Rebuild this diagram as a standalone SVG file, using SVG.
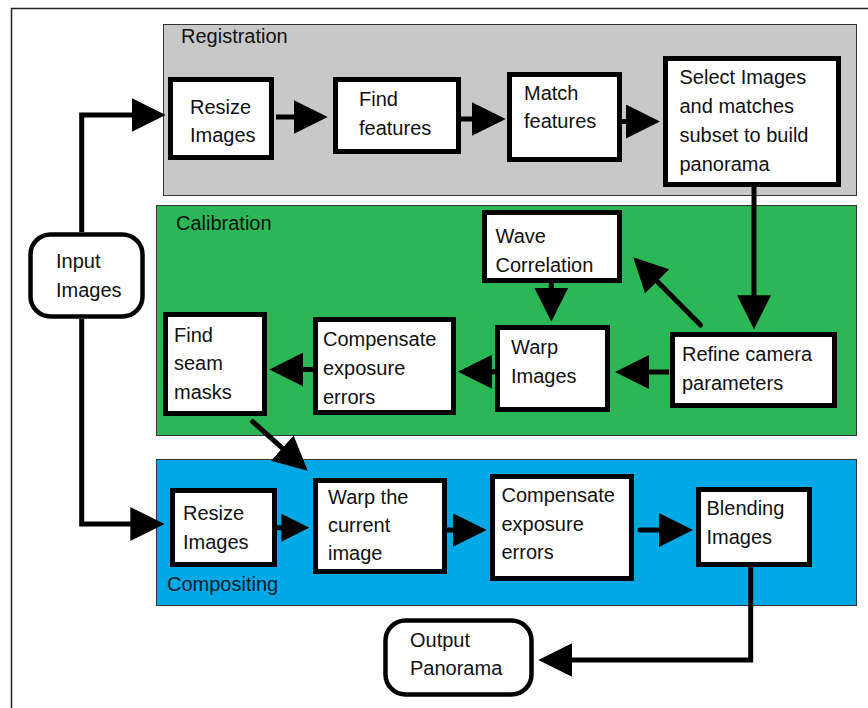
<svg xmlns="http://www.w3.org/2000/svg" width="868" height="708" viewBox="0 0 868 708">
<defs>
<style>
.t{font-family:"Liberation Sans",Arial,sans-serif;font-size:20px;fill:#111}
.box{fill:#fff;stroke:#000;stroke-width:5}
.panel{stroke:#333;stroke-width:1}
.c{fill:none;stroke:#000;stroke-width:5}
</style>
<marker id="ah" markerUnits="userSpaceOnUse" markerWidth="34" markerHeight="34" refX="2" refY="17" orient="auto" viewBox="0 0 34 34">
<path d="M0,0 L34,17 L0,34 Z" fill="#000"/>
</marker>
<marker id="ahs" markerUnits="userSpaceOnUse" markerWidth="28" markerHeight="28" refX="2" refY="14" orient="auto" viewBox="0 0 28 28">
<path d="M0,0 L28,14 L0,28 Z" fill="#000"/>
</marker>
</defs>
<rect width="868" height="708" fill="#fff"/>
<rect x="11.5" y="8.5" width="900" height="750" fill="none" stroke="#222" stroke-width="1.5"/>

<g id="panel-registration">
<rect class="panel" x="163.5" y="24.5" width="693" height="171" fill="#c8c8c8"/>
<text class="t" x="181" y="43">Registration</text>
</g>
<g id="panel-calibration">
<rect class="panel" x="156.5" y="205.5" width="700" height="230" fill="#2cb757"/>
<text class="t" x="176" y="230">Calibration</text>
</g>
<g id="panel-compositing">
<rect class="panel" x="156.5" y="459.5" width="700" height="146" fill="#00a8e6"/>
<text class="t" x="167" y="591" style="fill:#0c1c2c">Compositing</text>
</g>

<g id="connectors">
<path class="c" d="M81.7,232 V115 H133.7" marker-end="url(#ah)"/>
<path class="c" d="M81.7,319 V524 H132.3" marker-end="url(#ah)"/>
<path class="c" d="M276,117 H295.7" marker-end="url(#ah)"/>
<path class="c" d="M461,119 H473.7" marker-end="url(#ah)"/>
<path class="c" d="M621,121.5 H628" marker-end="url(#ah)"/>
<path class="c" d="M754,187 V297.3" marker-end="url(#ah)"/>
<path class="c" d="M551.3,283 V289.7" marker-end="url(#ah)"/>
<path class="c" d="M700.5,325 L655.8,280" stroke-linecap="round" marker-end="url(#ah)"/>
<path class="c" d="M669,372 H647" marker-end="url(#ah)"/>
<path class="c" d="M495,371.7 H490" marker-end="url(#ah)"/>
<path class="c" d="M313,369.5 H301.3" marker-end="url(#ah)"/>
<path class="c" d="M252.7,421.7 L283.8,449.4" stroke-linecap="round" marker-end="url(#ah)"/>
<path class="c" d="M277,527.7 H283.3" marker-end="url(#ahs)"/>
<path class="c" d="M447,530 H454.7" marker-end="url(#ah)"/>
<path class="c" d="M640,530 H661" stroke-linecap="round" marker-end="url(#ah)"/>
<path class="c" d="M750.7,567 V660 H570.3" marker-end="url(#ah)"/>
</g>

<g id="input-images">
<rect class="box" x="30.5" y="234.5" width="112" height="82" rx="20" style="stroke-width:4.5"/>
<text class="t" x="56" y="267.5">Input</text>
<text class="t" x="56" y="296.5">Images</text>
</g>
<g id="reg-resize">
<rect class="box" x="170.5" y="79.5" width="101" height="78"/>
<text class="t" x="190" y="114">Resize</text>
<text class="t" x="190" y="141.5">Images</text>
</g>
<g id="find-features">
<rect class="box" x="335.5" y="79.5" width="123" height="72"/>
<text class="t" x="359" y="106">Find</text>
<text class="t" x="359" y="135">features</text>
</g>
<g id="match-features">
<rect class="box" x="509.5" y="74.5" width="110" height="85"/>
<text class="t" x="524" y="100">Match</text>
<text class="t" x="524" y="128">features</text>
</g>
<g id="select-images">
<rect class="box" x="665.5" y="58.5" width="173" height="126"/>
<text class="t" x="679.5" y="84">Select Images</text>
<text class="t" x="679.5" y="113">and matches</text>
<text class="t" x="679.5" y="141.5">subset to build</text>
<text class="t" x="679.5" y="170.5">panorama</text>
</g>
<g id="wave-correlation">
<rect class="box" x="484.5" y="212.5" width="135" height="68"/>
<text class="t" x="495.5" y="243">Wave</text>
<text class="t" x="495.5" y="271.5">Correlation</text>
</g>
<g id="warp-images">
<rect class="box" x="497.5" y="327.5" width="110" height="82"/>
<text class="t" x="511" y="353.5">Warp</text>
<text class="t" x="511" y="382.5">Images</text>
</g>
<g id="refine-camera">
<rect class="box" x="672.5" y="334.5" width="162" height="71"/>
<text class="t" x="682" y="361">Refine camera</text>
<text class="t" x="682" y="389.5">parameters</text>
</g>
<g id="compensate-calibration">
<rect class="box" x="315.5" y="319.5" width="138" height="93"/>
<text class="t" x="323" y="345.5">Compensate</text>
<text class="t" x="323" y="375">exposure</text>
<text class="t" x="323" y="403.5">errors</text>
</g>
<g id="find-seam-masks">
<rect class="box" x="165.5" y="314.5" width="99" height="99"/>
<text class="t" x="174" y="341.5">Find</text>
<text class="t" x="174" y="370">seam</text>
<text class="t" x="174" y="399">masks</text>
</g>
<g id="comp-resize">
<rect class="box" x="172.5" y="490.5" width="102" height="74"/>
<text class="t" x="183" y="520">Resize</text>
<text class="t" x="183" y="548.5">Images</text>
</g>
<g id="warp-current">
<rect class="box" x="315.5" y="480.5" width="129" height="91"/>
<text class="t" x="328" y="503.5">Warp the</text>
<text class="t" x="328" y="532">current</text>
<text class="t" x="328" y="560">image</text>
</g>
<g id="compensate-compositing">
<rect class="box" x="492.5" y="476.5" width="139" height="102"/>
<text class="t" x="501.5" y="502">Compensate</text>
<text class="t" x="501.5" y="530.5">exposure</text>
<text class="t" x="501.5" y="559">errors</text>
</g>
<g id="blending-images">
<rect class="box" x="698.5" y="489.5" width="111" height="75"/>
<text class="t" x="706.5" y="515">Blending</text>
<text class="t" x="706.5" y="543.5">Images</text>
</g>
<g id="output-panorama">
<rect class="box" x="385.5" y="620.5" width="146" height="74" rx="20" style="stroke-width:4.5"/>
<text class="t" x="410" y="646.5">Output</text>
<text class="t" x="410" y="675">Panorama</text>
</g>
</svg>
